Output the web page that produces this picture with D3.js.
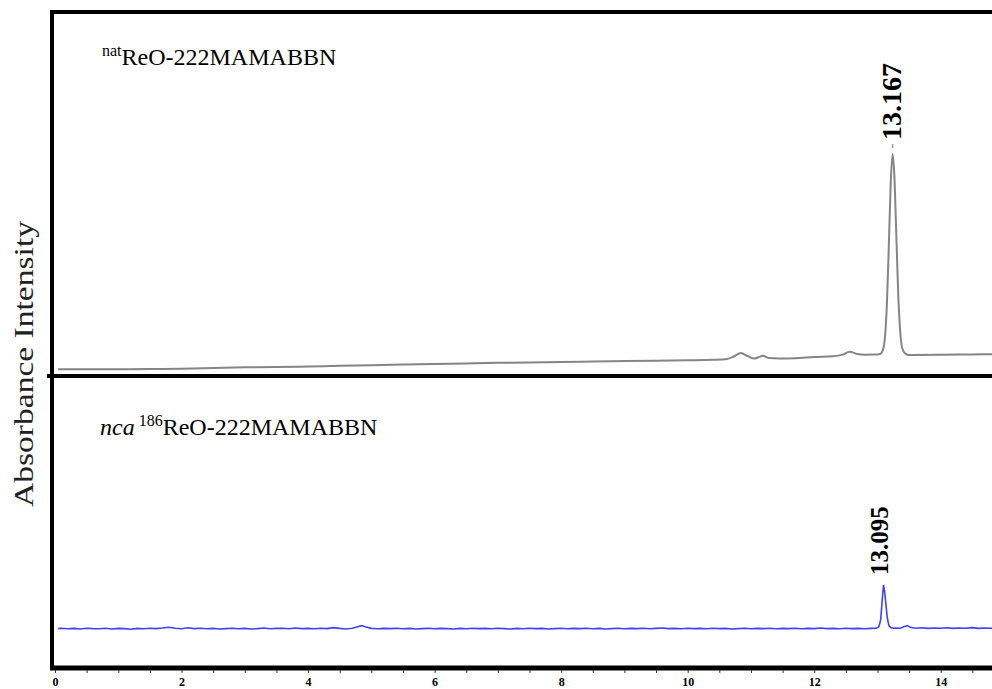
<!DOCTYPE html>
<html>
<head>
<meta charset="utf-8">
<script src="https://cdn.jsdelivr.net/npm/d3@7"></script>
<style>
  body { margin: 0; background: #fff; }
  svg { display: block; font-family: "Liberation Serif", "Times New Roman", serif; }
  .tick text { font-family: "Liberation Serif", "Times New Roman", serif; font-weight: bold; }
</style>
</head>
<body>
<svg id="chrom"></svg>
<script>
// retention time (min), absorbance (a.u.)
const natTrace = [
  [0.05,0.35],[0.5,0.35],[1,0.35],[1.5,0.45],[2,0.6],[2.5,0.95],[3,1.35],[3.5,1.55],
  [4,1.75],[4.5,2.1],[5,2.4],[5.5,2.7],[6,3.0],[6.5,3.3],[7,3.6],[7.5,3.8],[8,4.0],
  [8.5,4.25],[9,4.5],[9.5,4.65],[10,4.85],[10.4,5.1],[10.6,5.4],[10.72,6.6],[10.84,8.5],
  [10.95,6.9],[11.05,5.7],[11.12,6.4],[11.19,7.1],[11.28,6.0],[11.45,5.8],[11.7,5.9],
  [12.0,6.5],[12.3,6.85],[12.45,7.7],[12.56,9.15],[12.68,8.0],[12.8,7.65],[12.95,7.7],
  [13.04,8],[13.09,10.5],[13.12,17],[13.15,34],[13.18,63],[13.21,94],[13.24,108],
  [13.27,95],[13.30,65],[13.33,36],[13.36,19],[13.39,11],[13.44,8.2],[13.5,7.5],
  [14,7.65],[14.5,7.8],[14.81,7.85]
];

const ncaTrace = [
  [0.05,0.7],[0.1,0.9],[0.2,0.6],[0.3,0.8],[0.4,0.5],[0.5,0.9],[0.6,0.7],[0.7,0.6],[0.8,0.9],[0.9,0.5],
  [1.0,0.8],[1.1,0.7],[1.2,0.4],[1.3,0.8],[1.4,0.6],[1.5,0.9],[1.6,0.7],[1.7,1.0],[1.8,1.4],[1.9,0.9],
  [2.0,0.6],[2.1,1.1],[2.2,0.7],[2.3,0.9],[2.4,0.6],[2.5,0.8],[2.6,0.5],[2.7,0.7],[2.8,0.9],[2.9,0.6],
  [3.0,0.8],[3.1,0.5],[3.2,0.7],[3.3,1.0],[3.4,0.6],[3.5,0.8],[3.6,0.9],[3.7,0.6],[3.8,1.0],[3.9,0.7],
  [4.0,0.8],[4.1,0.6],[4.2,0.9],[4.3,0.7],[4.4,1.2],[4.5,0.8],[4.6,0.5],[4.7,0.9],[4.8,1.8],[4.85,2.2],
  [4.9,1.6],[5.0,0.8],[5.1,0.6],[5.2,0.8],[5.3,0.7],[5.4,0.9],[5.5,0.6],[5.6,0.8],[5.7,0.5],[5.8,0.7],
  [5.9,0.9],[6.0,0.6],[6.1,0.8],[6.2,0.7],[6.3,0.5],[6.4,0.8],[6.5,0.6],[6.6,0.9],[6.7,0.7],[6.8,0.8],
  [6.9,0.6],[7.0,0.9],[7.1,0.7],[7.2,0.5],[7.3,0.8],[7.4,0.6],[7.5,0.9],[7.6,0.7],[7.7,0.8],[7.8,0.5],
  [7.9,0.7],[8.0,0.9],[8.1,0.6],[8.2,0.8],[8.3,0.7],[8.4,0.9],[8.5,0.6],[8.6,0.8],[8.7,0.5],[8.8,0.7],
  [8.9,0.9],[9.0,0.6],[9.1,0.8],[9.2,0.7],[9.3,0.9],[9.4,0.6],[9.5,0.8],[9.6,1.0],[9.7,0.7],[9.8,0.8],
  [9.9,0.6],[10.0,0.9],[10.1,0.7],[10.2,0.8],[10.3,0.6],[10.4,0.9],[10.5,0.7],[10.6,0.8],[10.7,0.5],[10.8,0.7],
  [10.9,0.9],[11.0,0.6],[11.1,0.8],[11.2,0.7],[11.3,0.9],[11.4,0.6],[11.5,0.8],[11.6,0.7],[11.7,0.9],[11.8,0.6],
  [11.9,0.8],[12.0,0.7],[12.1,1.0],[12.2,0.7],[12.3,0.8],[12.4,0.6],[12.5,0.9],[12.6,0.7],[12.7,0.8],[12.8,0.6],
  [12.9,0.8],[12.98,0.9],[13.02,1.5],[13.05,5],[13.075,15],[13.095,22.5],[13.11,20],[13.13,14],[13.155,6],[13.18,2.2],
  [13.21,1.2],[13.25,0.9],[13.3,1.0],[13.35,0.8],[13.42,1.6],[13.47,2.2],[13.52,1.4],[13.6,0.9],[13.7,1.1],[13.8,0.8],
  [13.9,1.0],[14.0,0.9],[14.1,1.1],[14.2,0.8],[14.3,1.0],[14.4,0.9],[14.5,1.2],[14.6,0.8],[14.7,1.0],[14.81,0.9]
];

const peakTimes = [13.24, 13.095];
const peakHeights = [108, 22.5];
const peakLabels = ["13.167", "13.095"];
const xTickLabels = [0, 2, 4, 6, 8, 10, 12, 14];

const width = 992;
const height = 689;

const svg = d3.select("#chrom")
    .attr("width", width)
    .attr("height", height);

const x = d3.scaleLinear().domain([0, 14.81]).range([55, 992]);
const yTop = d3.scaleLinear().domain([0, 100]).range([370, 170]);
const yBot = d3.scaleLinear().domain([0, 100]).range([630, 430]);

// traces
const topLine = d3.line()
    .x(d => x(d[0]))
    .y(d => yTop(d[1]))
    .curve(d3.curveMonotoneX);

const botLine = d3.line()
    .x(d => x(d[0]))
    .y(d => yBot(d[1]));

svg.append("path")
    .datum(natTrace)
    .attr("d", topLine)
    .attr("fill", "none")
    .attr("stroke", "#858585")
    .attr("stroke-width", 2);

svg.append("path")
    .datum(ncaTrace)
    .attr("d", botLine)
    .attr("fill", "none")
    .attr("stroke", "#4040ff")
    .attr("stroke-width", 1.6);

// frame
svg.append("line")
    .attr("x1", 50).attr("x2", 992)
    .attr("y1", 12).attr("y2", 12)
    .attr("stroke", "black").attr("stroke-width", 4);

svg.append("line")
    .attr("x1", 47).attr("x2", 992)
    .attr("y1", 376).attr("y2", 376)
    .attr("stroke", "black").attr("stroke-width", 4);

svg.append("line")
    .attr("x1", 52).attr("x2", 52)
    .attr("y1", 10).attr("y2", 670)
    .attr("stroke", "black").attr("stroke-width", 4);

// x axis
const xAxis = d3.axisBottom(x)
    .tickValues(x.ticks(30))
    .tickSize(3)
    .tickFormat(d => xTickLabels.includes(d) ? d : "");

const gx = svg.append("g")
    .attr("transform", "translate(0,668)")
    .call(xAxis)
    .attr("font-family", null)
    .attr("font-size", null);

gx.select(".domain")
    .attr("d", "M50,0H992")
    .attr("stroke", "black")
    .attr("stroke-width", 5);

gx.selectAll(".tick line")
    .attr("y1", 2)
    .attr("y2", 5)
    .attr("stroke", "#333")
    .attr("stroke-width", 1);

gx.selectAll(".tick text")
    .attr("y", 18)
    .attr("dy", 0)
    .style("font-size", "12px")
    .attr("fill", "black");

// y label
svg.append("text")
    .attr("transform", "translate(33,364) rotate(-90)")
    .attr("text-anchor", "middle")
    .attr("font-size", 27)
    .attr("textLength", 286)
    .attr("lengthAdjust", "spacingAndGlyphs")
    .attr("fill", "#222")
    .text("Absorbance Intensity");

// panel titles
const t1 = svg.append("text")
    .attr("x", 102)
    .attr("y", 65)
    .attr("font-size", 24)
    .attr("fill", "black");
t1.append("tspan").attr("font-size", 16).attr("dy", -9).text("nat");
t1.append("tspan").attr("dy", 9).text("ReO-222MAMABBN");

const t2 = svg.append("text")
    .attr("x", 100)
    .attr("y", 435)
    .attr("font-size", 24)
    .attr("fill", "black");
t2.append("tspan").attr("font-style", "italic").text("nca");
t2.append("tspan").attr("font-size", 16).attr("dx", 4).attr("dy", -9).text("186");
t2.append("tspan").attr("dy", 9).text("ReO-222MAMABBN");

// peak labels
const yScales = [yTop, yBot];
const labelSize = [28, 25];
const labelGap = [14, 10];
const labelShift = [8, 5];

peakLabels.forEach(function(lab, i) {
    const px = x(peakTimes[i]) + labelShift[i];
    const py = yScales[i](peakHeights[i]) - labelGap[i];
    svg.append("text")
        .attr("transform", `translate(${px},${py}) rotate(-90)`)
        .attr("text-anchor", "start")
        .attr("font-weight", "bold")
        .attr("font-size", labelSize[i])
        .attr("fill", "black")
        .text(lab);
});

// small marker above main peak
svg.append("line")
    .attr("x1", x(peakTimes[0])).attr("x2", x(peakTimes[0]))
    .attr("y1", yTop(peakHeights[0]) - 10)
    .attr("y2", yTop(peakHeights[0]) - 6)
    .attr("stroke", "#999")
    .attr("stroke-width", 1.5);
</script>
</body>
</html>
